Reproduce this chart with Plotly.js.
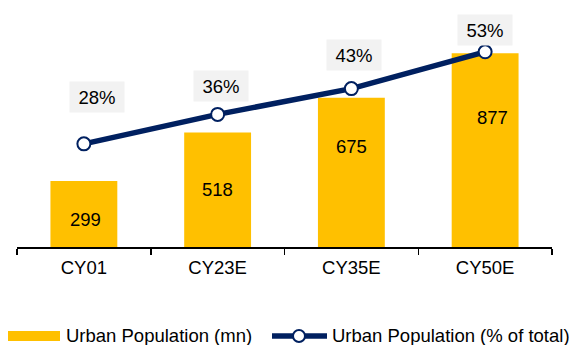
<!DOCTYPE html>
<html>
<head>
<meta charset="utf-8">
<script src="https://cdn.plot.ly/plotly-3.0.1.min.js"></script>
<style>
  html, body { margin: 0; padding: 0; background: #fff; }
  #chart { width: 572px; height: 345px; }
</style>
</head>
<body>
<div id="chart"></div>
<script>
// Urban population: absolute (mn) and share of total population
const categories = ['CY01', 'CY23E', 'CY35E', 'CY50E'];
const urbanPopMn = [299, 518, 675, 877];
const urbanPopPct = [28, 36, 43, 53];
const mnLabels = urbanPopMn.map(v => String(v));
const pctLabels = urbanPopPct.map(v => v + '%');

// Label offsets (pixels) relative to each bar top / line point
const mnLabelShift = [[2, -39], [0, -57], [0, -49], [7, -64]];
const pctLabelShift = [[13, 47], [3, 28], [3, 34], [0, 22]];

const W = 572, H = 345;
const M = { l: 17, r: 20, t: 26, b: 97.5 };
const plotW = W - M.l - M.r, plotH = H - M.t - M.b;
const px = x => (x - M.l) / plotW;          // pixel x -> paper x
const py = y => (H - M.b - y) / plotH;      // pixel y -> paper y

const GOLD = '#FFC000';
const NAVY = '#002060';
const FONT = 'Liberation Sans, Arial, sans-serif';
const FS = 18.5;

const bars = {
  type: 'bar',
  name: 'Urban Population (mn)',
  x: categories,
  y: urbanPopMn,
  width: 0.5,
  marker: { color: GOLD },
  hoverinfo: 'skip',
  showlegend: false
};

const line = {
  type: 'scatter',
  mode: 'lines+markers',
  name: 'Urban Population (% of total)',
  x: categories,
  y: urbanPopPct,
  yaxis: 'y2',
  line: { color: NAVY, width: 5.5 },
  marker: { size: 13, color: '#ffffff', line: { color: NAVY, width: 2 } },
  hoverinfo: 'skip',
  showlegend: false
};

const annotations = [];
categories.forEach((c, i) => {
  annotations.push({
    x: c, y: urbanPopMn[i], xref: 'x', yref: 'y',
    text: mnLabels[i], showarrow: false,
    xshift: mnLabelShift[i][0], yshift: mnLabelShift[i][1],
    font: { family: FONT, size: FS, color: '#000' }
  });
  annotations.push({
    x: c, y: urbanPopPct[i], xref: 'x', yref: 'y2',
    text: pctLabels[i], showarrow: false,
    xshift: pctLabelShift[i][0], yshift: pctLabelShift[i][1],
    bgcolor: '#F2F2F2', width: 54, height: 30, borderpad: 0,
    font: { family: FONT, size: FS, color: '#000' }
  });
});

// Legend
const legendY = 336.7;
annotations.push({
  xref: 'paper', yref: 'paper', x: px(64), y: py(legendY),
  xanchor: 'left', yanchor: 'middle', showarrow: false,
  text: bars.name, font: { family: FONT, size: FS, color: '#000' }
});
annotations.push({
  xref: 'paper', yref: 'paper', x: px(330), y: py(legendY),
  xanchor: 'left', yanchor: 'middle', showarrow: false,
  text: line.name, font: { family: FONT, size: FS, color: '#000' }
});

const shapes = [
  { type: 'rect', xref: 'paper', yref: 'paper',
    x0: px(8), x1: px(60), y0: py(341.7), y1: py(331.7),
    fillcolor: GOLD, line: { width: 0 } },
  { type: 'line', xref: 'paper', yref: 'paper',
    x0: px(272), x1: px(327), y0: py(legendY), y1: py(legendY),
    line: { color: NAVY, width: 5.5 } },
  { type: 'circle', xref: 'paper', yref: 'paper',
    x0: px(293), x1: px(305), y0: py(legendY + 6), y1: py(legendY - 6),
    fillcolor: '#ffffff', line: { color: NAVY, width: 2 } }
];

const layout = {
  width: W, height: H,
  margin: M,
  paper_bgcolor: '#ffffff',
  plot_bgcolor: '#ffffff',
  font: { family: FONT, size: FS, color: '#000' },
  showlegend: false,
  xaxis: {
    type: 'category',
    range: [-0.5, 3.5],
    showline: true, linecolor: '#000', linewidth: 1.5,
    ticks: 'outside', tickson: 'boundaries', ticklen: 6, tickwidth: 1.5, tickcolor: '#000',
    ticklabelstandoff: 3,
    tickfont: { family: FONT, size: FS, color: '#000' },
    showgrid: false, zeroline: false, fixedrange: true
  },
  yaxis: { range: [0, 1000], visible: false, showgrid: false, zeroline: false },
  yaxis2: { range: [0, 60], overlaying: 'y', side: 'right', visible: false, showgrid: false, zeroline: false },
  annotations: annotations,
  shapes: shapes
};

Plotly.newPlot('chart', [bars, line], layout, { displayModeBar: false, staticPlot: true });
</script>
</body>
</html>
